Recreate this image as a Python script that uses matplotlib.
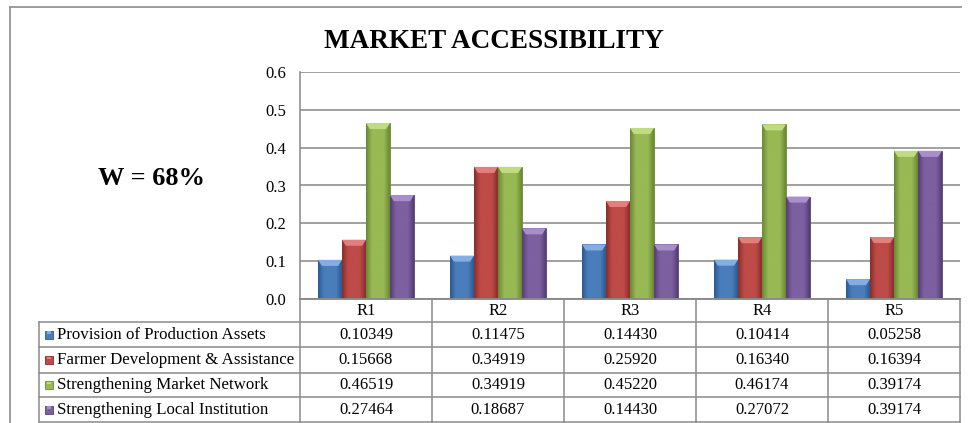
import numpy as np
import matplotlib.pyplot as plt
from matplotlib.lines import Line2D
from matplotlib.patches import Polygon, Rectangle
from matplotlib.colors import LinearSegmentedColormap

plt.rcParams['font.family'] = ['Liberation Serif', 'DejaVu Serif']

regions = ['R1', 'R2', 'R3', 'R4', 'R5']
series = ['Provision of Production Assets',
          'Farmer Development & Assistance',
          'Strengthening Market Network',
          'Strengthening Local Institution']
production_assets = [0.10349, 0.11475, 0.14430, 0.10414, 0.05258]
farmer_development = [0.15668, 0.34919, 0.25920, 0.16340, 0.16394]
market_network = [0.46519, 0.34919, 0.45220, 0.46174, 0.39174]
local_institution = [0.27464, 0.18687, 0.14430, 0.27072, 0.39174]
values = [production_assets, farmer_development, market_network, local_institution]

# base, highlight, shadow for each series (Office 2007 palette with bevel)
palette = [('#4A7EBB', '#82AEE3', '#2B5A93'),
           ('#BE4B48', '#E27F7D', '#882D2B'),
           ('#98B954', '#C1DC80', '#6A8833'),
           ('#7D60A0', '#A98FCA', '#553D74')]

W, H = 969, 423
fig = plt.figure(figsize=(W / 100, H / 100), dpi=100)

def fx(px):
    return px / W

def fy(py):
    return 1 - py / H

# outer chart frame
fig.add_artist(Line2D([fx(10), fx(10)], [fy(7), fy(423)], color='#8c8c8c', lw=1.2))
fig.add_artist(Line2D([fx(10), fx(961)], [fy(7), fy(7)], color='#8c8c8c', lw=1.2))

fig.text(fx(494), fy(48), 'MARKET ACCESSIBILITY', ha='center', va='baseline',
         fontsize=19.5, fontweight='bold')
fig.text(fx(152), fy(185), 'W = 68%', ha='center', va='baseline',
         fontsize=19, fontweight='bold')

left, right, top, bottom = 300, 960, 72, 299
ax = fig.add_axes([fx(left), fy(bottom), fx(right - left), (bottom - top) / H])
ax.set_xlim(-0.5, len(regions) - 0.5)
ax.set_ylim(0, 0.6)
ax.set_yticks(np.arange(0, 0.61, 0.1))
ax.set_yticklabels([f'{t:.1f}' for t in np.arange(0, 0.61, 0.1)], fontsize=12)
ax.set_xticks([])
ax.tick_params(axis='y', length=0, pad=10)
ax.grid(axis='y', color='#868686', lw=1.1)
ax.set_axisbelow(True)
for s in ['top', 'right']:
    ax.spines[s].set_visible(False)
for s in ['left', 'bottom']:
    ax.spines[s].set_color('#868686')
    ax.spines[s].set_linewidth(1.1)

bw = 24 / 132
x = np.arange(len(regions))
bevel_h = 0.016
inset = bw * 0.16
for i, vals in enumerate(values):
    base, light, dark = palette[i]
    cmap = LinearSegmentedColormap.from_list('b', [dark, base, base, base, dark])
    grad = np.linspace(0, 1, 64).reshape(1, -1)
    xs = x + (i - 1.5) * bw
    bars = ax.bar(xs, vals, width=bw, color=base, edgecolor=dark, lw=0.6, zorder=2)
    for b, v in zip(bars, vals):
        x0, x1 = b.get_x(), b.get_x() + b.get_width()
        im = ax.imshow(grad, extent=[x0, x1, 0, v], aspect='auto', cmap=cmap,
                       zorder=2.1, interpolation='bicubic')
        im.set_clip_path(b)
        ax.add_patch(Polygon([(x0, v), (x1, v), (x1 - inset, v - bevel_h),
                              (x0 + inset, v - bevel_h)], closed=True,
                             facecolor=light, edgecolor='none', zorder=2.2))
ax.set_xlim(-0.5, len(regions) - 0.5)
ax.set_ylim(0, 0.6)

# data table under the plot, sharing the category scale
tleft, tbottom = 39, 422
x_min = -0.5 - (left - tleft) / 132
tax = fig.add_axes([fx(tleft), fy(tbottom), fx(right - tleft), (tbottom - bottom) / H])
tax.set_xlim(x_min, len(regions) - 0.5)
rows = [0, 23, 48, 74, 98, 123]
tax.set_ylim(rows[-1], 0)
tax.axis('off')
lc, lw = '#8a8a8a', 1.1
tax.plot([-0.5, 4.5], [0, 0], color=lc, lw=lw, clip_on=False)
for r in rows[1:]:
    tax.plot([x_min, 4.5], [r, r], color=lc, lw=lw, clip_on=False)
for c in np.arange(-0.5, 4.6, 1.0):
    tax.plot([c, c], [0, rows[-1]], color=lc, lw=lw, clip_on=False)
tax.plot([x_min, x_min], [rows[1], rows[-1]], color=lc, lw=lw, clip_on=False)

for j, reg in enumerate(regions):
    tax.text(j, (rows[0] + rows[1]) / 2, reg, ha='center', va='center', fontsize=12)
for i, (name, vals) in enumerate(zip(series, values)):
    yc = (rows[i + 1] + rows[i + 2]) / 2
    base, light, dark = palette[i]
    sq = 8 / 132
    tax.add_patch(Rectangle((x_min + 6 / 132, yc - 4), sq, 8, facecolor=base,
                            edgecolor=dark, lw=0.6))
    tax.add_patch(Rectangle((x_min + 7.5 / 132, yc - 3.5), sq * 0.6, 2.5,
                            facecolor=light, edgecolor='none'))
    tax.text(x_min + 18 / 132, yc, name, ha='left', va='center', fontsize=12.2)
    for j, v in enumerate(vals):
        tax.text(j, yc, f'{v:.5f}', ha='center', va='center', fontsize=12)

fig.savefig('out.png', dpi=100)
